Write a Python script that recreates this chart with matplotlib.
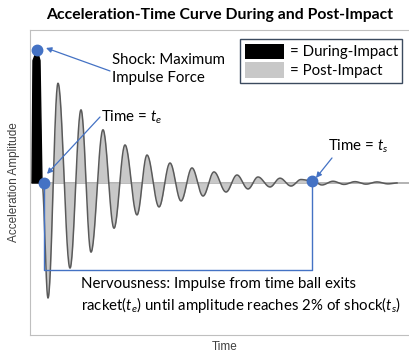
import numpy as np
import matplotlib
matplotlib.use("Agg")
import matplotlib.pyplot as plt
from matplotlib.patches import Patch

plt.rcParams['mathtext.fontset'] = 'custom'
plt.rcParams['mathtext.rm'] = 'Lato'
plt.rcParams['mathtext.it'] = 'Lato:italic'

# during-impact spike (time, amplitude)
during_t = [0.2, 0.3, 0.7, 1.0, 1.2]
during_a = [0, 92, 100, 92, 0]

# post-impact oscillation: successive extremes
post_t = [1.2, 1.8, 2.8, 4.0, 5.1, 6.1, 7.3, 8.4, 9.5, 10.7, 11.7, 12.9, 14.0,
          15.1, 16.2, 17.3, 18.4, 19.6, 20.7, 21.8, 22.8, 24.0, 25.0, 26.1,
          27.1, 28.2, 29.2, 30.3, 31.4, 32.5, 33.6, 34.7, 35.8, 36.7]
post_a = [0, -86.5, 75, -64, 55, -52, 40, -34, 28.6, -24, 21, -18, 15,
          -13.5, 11.3, -9.8, 8.3, -6.8, 6.0, -4.5, 4.5, -3.0, 3.6, -2.3,
          2.6, 1.5, -1.5, 1.3, -1.1, 1.0, -0.9, 0.8, -0.7, 0]

shock_t, shock_a = 0.7, 100
t_e, t_s, ts_a = 1.4, 28.2, 1.5
bracket_a = -65.4

blue = '#4472c4'

# smooth the curve between extremes with half-cosine segments
curve_t, curve_a = [], []
for i in range(len(post_t) - 1):
    s = np.linspace(0, 1, 30)
    curve_t += list(post_t[i] + (post_t[i+1] - post_t[i]) * s)
    curve_a += list(post_a[i] + (post_a[i+1] - post_a[i]) * (1 - np.cos(np.pi * s)) / 2)
curve_t, curve_a = np.array(curve_t), np.array(curve_a)

fig = plt.figure(figsize=(4.09, 3.58), dpi=100)
ax = fig.add_axes([30/409, 23/358, 390/409, 305/358])
ax.set_xlim(0, 39)
ax.set_ylim(-114.3, 115)
ax.set_xticks([])
ax.set_yticks([])
for side in ['top', 'left', 'bottom']:
    ax.spines[side].set_color('#bfbfbf')
ax.spines['right'].set_visible(False)

ax.axhline(0, color='#a6a6a6', lw=1.2, zorder=1)
ax.fill(during_t, during_a, color='black', zorder=2)
m = curve_t <= t_s
ax.fill_between(curve_t[m], curve_a[m], 0, color='#c8c8c8', lw=0, zorder=1.5)
ax.plot(curve_t, curve_a, color='#5a5a5a', lw=1.1, zorder=3)

# nervousness bracket
ax.plot([t_e, t_e, t_s, t_s], [0, bracket_a, bracket_a, ts_a], color=blue, lw=1, zorder=4)
ax.plot([shock_t, t_e, t_s], [shock_a, 0, ts_a], 'o', color=blue, ms=7.5, zorder=5)

arrow = dict(arrowstyle='-|>', color=blue, lw=0.9, mutation_scale=8, shrinkA=0, shrinkB=0)
ax.annotate('', xy=(1.6, 101.5), xytext=(8.0, 84.2), arrowprops=arrow)
ax.annotate('', xy=(1.7, 6.8), xytext=(7.0, 49.6), arrowprops=arrow)
ax.annotate('', xy=(28.6, 3.8), xytext=(30.2, 18.8), arrowprops=arrow)

font = dict(family='Lato', size=10.8, color='black')
ax.text(8.2, 85.7, 'Shock: Maximum\nImpulse Force', va='center', ha='left', linespacing=1.3, **font)
ax.text(7.1, 49.6, 'Time = $t_e$', va='center', ha='left', **font)
ax.text(29.8, 27.8, 'Time = $t_s$', va='center', ha='left', **font)
ax.text(5.1, -85, 'Nervousness: Impulse from time ball exits\n'
        'racket($t_e$) until amplitude reaches 2% of shock($t_s$)',
        va='center', ha='left', linespacing=1.3, **font)

leg = ax.legend([Patch(fc='black', ec='none'), Patch(fc='#c8c8c8', ec='none')],
                ['= During-Impact', '= Post-Impact'],
                loc='upper left', bbox_to_anchor=(240/409, 1 - 39/358),
                bbox_transform=fig.transFigure, prop=dict(family='Lato', size=10.8),
                frameon=True, fancybox=False, framealpha=1, edgecolor='#3b4a5e',
                borderpad=0.3, handlelength=2.6, handleheight=1.2,
                handletextpad=0.4, labelspacing=0.2, borderaxespad=0)
leg.get_frame().set_linewidth(1)

fig.text(220/409, 1 - 15/358, 'Acceleration-Time Curve During and Post-Impact',
         ha='center', va='center', family='Lato', fontweight='bold', size=11.3)
fig.text(14/409, 1 - 182/358, 'Acceleration Amplitude', rotation=90,
         ha='center', va='center', family='Liberation Sans', size=8.5, color='#404040')
fig.text(225/409, 1 - 347/358, 'Time', ha='center', va='center',
         family='Liberation Sans', size=8.5, color='#404040')

fig.savefig('out.png', dpi=100)
